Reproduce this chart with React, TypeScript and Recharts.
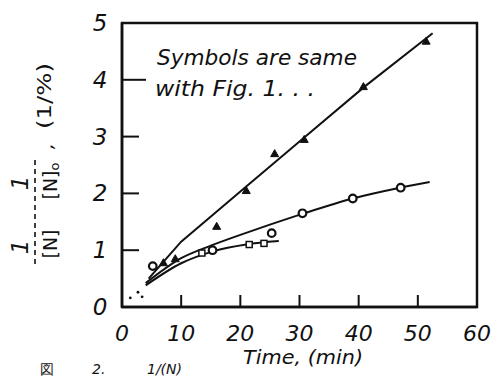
import React from "react";
import { ComposedChart, Line, Scatter, XAxis, YAxis, ReferenceArea } from "recharts";

// axis ticks
const xTicks = [0, 10, 20, 30, 40, 50, 60];
const yTicks = [0, 1, 2, 3, 4, 5];

// hand-drawn curves
const upperLine = [
  { x: 4.5, y: 0.5 },
  { x: 10, y: 1.15 },
  { x: 21, y: 2.12 },
  { x: 31, y: 3.0 },
  { x: 41, y: 3.88 },
  { x: 52.5, y: 4.82 },
];
const middleLine = [
  { x: 4, y: 0.42 },
  { x: 10, y: 0.86 },
  { x: 15, y: 1.08 },
  { x: 20, y: 1.27 },
  { x: 25, y: 1.45 },
  { x: 30.5, y: 1.64 },
  { x: 39, y: 1.91 },
  { x: 47, y: 2.1 },
  { x: 52, y: 2.2 },
];
const lowerLine = [
  { x: 4, y: 0.38 },
  { x: 10, y: 0.77 },
  { x: 15.4, y: 0.98 },
  { x: 21, y: 1.1 },
  { x: 26.5, y: 1.16 },
];

// symbols
const triangles = [
  { x: 7, y: 0.78 },
  { x: 9, y: 0.85 },
  { x: 16, y: 1.42 },
  { x: 21, y: 2.05 },
  { x: 25.8, y: 2.7 },
  { x: 30.8, y: 2.95 },
  { x: 40.8, y: 3.88 },
  { x: 51.4, y: 4.68 },
];
const circles = [
  { x: 5.2, y: 0.72 },
  { x: 15.3, y: 1.0 },
  { x: 25.3, y: 1.3 },
  { x: 30.5, y: 1.65 },
  { x: 39, y: 1.91 },
  { x: 47.1, y: 2.1 },
];
const squares = [
  { x: 13.5, y: 0.95 },
  { x: 21.5, y: 1.1 },
  { x: 24, y: 1.12 },
];
const dots = [
  { x: 1.4, y: 0.16 },
  { x: 2.7, y: 0.26 },
  { x: 3.4, y: 0.18 },
];

const ink = "#111";
const hand = "'DejaVu Sans', sans-serif";
const W = 493;
const H = 376;

function XTick({ x, y, payload }: any) {
  const v = payload.value;
  return (
    <g>
      {v > 0 && v < 60 && (
        <line x1={x} x2={x} y1={y} y2={y - 12} stroke={ink} strokeWidth={2} />
      )}
      <text
        x={x}
        y={y + 26}
        textAnchor="middle"
        dominantBaseline="central"
        fontSize={22}
        fontStyle="italic"
        fontFamily={hand}
        fill={ink}
      >
        {v}
      </text>
    </g>
  );
}

function YTick({ x, y, payload }: any) {
  const v = payload.value;
  return (
    <g>
      {v > 0 && v < 5 && (
        <line x1={x} x2={x + (v === 4 ? 24 : 17)} y1={y} y2={y} stroke={ink} strokeWidth={2} />
      )}
      <text
        x={x - 22}
        y={y}
        textAnchor="middle"
        dominantBaseline="central"
        fontSize={23}
        fontStyle="italic"
        fontFamily={hand}
        fill={ink}
      >
        {v}
      </text>
    </g>
  );
}

function Tri({ cx, cy }: any) {
  return (
    <path
      d={`M${cx},${cy - 4} L${cx + 4},${cy + 3} L${cx - 4},${cy + 3} Z`}
      fill={ink}
      stroke={ink}
      strokeWidth={1}
    />
  );
}

function Circ({ cx, cy }: any) {
  return <circle cx={cx} cy={cy} r={3.8} fill="#fff" stroke={ink} strokeWidth={2.2} />;
}

function Sq({ cx, cy }: any) {
  return (
    <rect x={cx - 3} y={cy - 3} width={6} height={6} fill="#fff" stroke={ink} strokeWidth={1.5} />
  );
}

function Dot({ cx, cy }: any) {
  return <circle cx={cx} cy={cy} r={1.4} fill={ink} />;
}

function Overlay() {
  const t = { fontFamily: hand, fontStyle: "italic" as const, fill: ink };
  return (
    <svg
      width={W}
      height={H}
      style={{ position: "absolute", left: 0, top: 0, pointerEvents: "none" }}
    >
      {/* y axis title: 1/[N] - 1/[N]o , (1/%) */}
      <text {...t} x={20} y={247} fontSize={23} textAnchor="middle" dominantBaseline="central" transform="rotate(-90 20 247)">1</text>
      <text {...t} fontStyle="normal" x={50} y={244} fontSize={19} textAnchor="middle" dominantBaseline="central" transform="rotate(-90 50 244)">[N]</text>
      <text {...t} x={20} y={183} fontSize={23} textAnchor="middle" dominantBaseline="central" transform="rotate(-90 20 183)">1</text>
      <text {...t} fontStyle="normal" x={50} y={181} fontSize={19} textAnchor="middle" dominantBaseline="central" transform="rotate(-90 50 181)">
        [N]<tspan fontSize={13} dy={4}>o</tspan>
      </text>
      <line x1={35} x2={35} y1={160} y2={264} stroke={ink} strokeWidth={1.6} strokeDasharray="5 4" />
      <text {...t} x={46} y={146} fontSize={20} textAnchor="middle" dominantBaseline="central" transform="rotate(-90 46 146)">,</text>
      <text {...t} fontStyle="normal" x={44} y={96} fontSize={20} textAnchor="middle" dominantBaseline="central" transform="rotate(-90 44 96)" textLength={66} lengthAdjust="spacingAndGlyphs">(1/%)</text>

      {/* note */}
      <text {...t} x={157} y={65} fontSize={21} textLength={200} lengthAdjust="spacingAndGlyphs">Symbols are same</text>
      <text {...t} x={155} y={96} fontSize={21} textLength={160} lengthAdjust="spacingAndGlyphs">with Fig. 1. . .</text>

      {/* x axis title */}
      <text {...t} x={303} y={364} fontSize={20} textAnchor="middle" textLength={120} lengthAdjust="spacingAndGlyphs">Time, (min)</text>

      {/* caption (cut off in the scan) */}
      <text {...t} fontStyle="normal" x={40} y={374} fontSize={14}>図</text>
      <text {...t} x={92} y={374} fontSize={14}>2.</text>
      <text {...t} x={147} y={374} fontSize={14}>1/(N)</text>
    </svg>
  );
}

export default function App() {
  return (
    <div style={{ position: "absolute", left: 0, top: 0, width: W, height: H, background: "#fff" }}>
      <ComposedChart width={W} height={H} margin={{ top: 23, right: 16, bottom: 0, left: 0 }}>
        <XAxis
          dataKey="x"
          type="number"
          domain={[0, 60]}
          ticks={xTicks}
          height={69}
          tickSize={0}
          tickMargin={0}
          tick={<XTick />}
          tickLine={false}
          axisLine={{ stroke: ink, strokeWidth: 2.5 }}
          allowDataOverflow
        />
        <YAxis
          type="number"
          domain={[0, 5]}
          ticks={yTicks}
          width={122}
          tickSize={0}
          tickMargin={0}
          tick={<YTick />}
          tickLine={false}
          axisLine={{ stroke: ink, strokeWidth: 2.5 }}
          allowDataOverflow
        />
        <ReferenceArea x1={0} x2={60} y1={0} y2={5} fill="none" stroke={ink} strokeWidth={2.5} ifOverflow="visible" />
        <Line data={upperLine} dataKey="y" type="linear" stroke={ink} strokeWidth={2} dot={false} isAnimationActive={false} />
        <Line data={middleLine} dataKey="y" type="monotone" stroke={ink} strokeWidth={2} dot={false} isAnimationActive={false} />
        <Line data={lowerLine} dataKey="y" type="monotone" stroke={ink} strokeWidth={2} dot={false} isAnimationActive={false} />
        <Scatter data={triangles} dataKey="y" shape={<Tri />} isAnimationActive={false} />
        <Scatter data={circles} dataKey="y" shape={<Circ />} isAnimationActive={false} />
        <Scatter data={squares} dataKey="y" shape={<Sq />} isAnimationActive={false} />
        <Scatter data={dots} dataKey="y" shape={<Dot />} isAnimationActive={false} />
      </ComposedChart>
      <Overlay />
    </div>
  );
}
